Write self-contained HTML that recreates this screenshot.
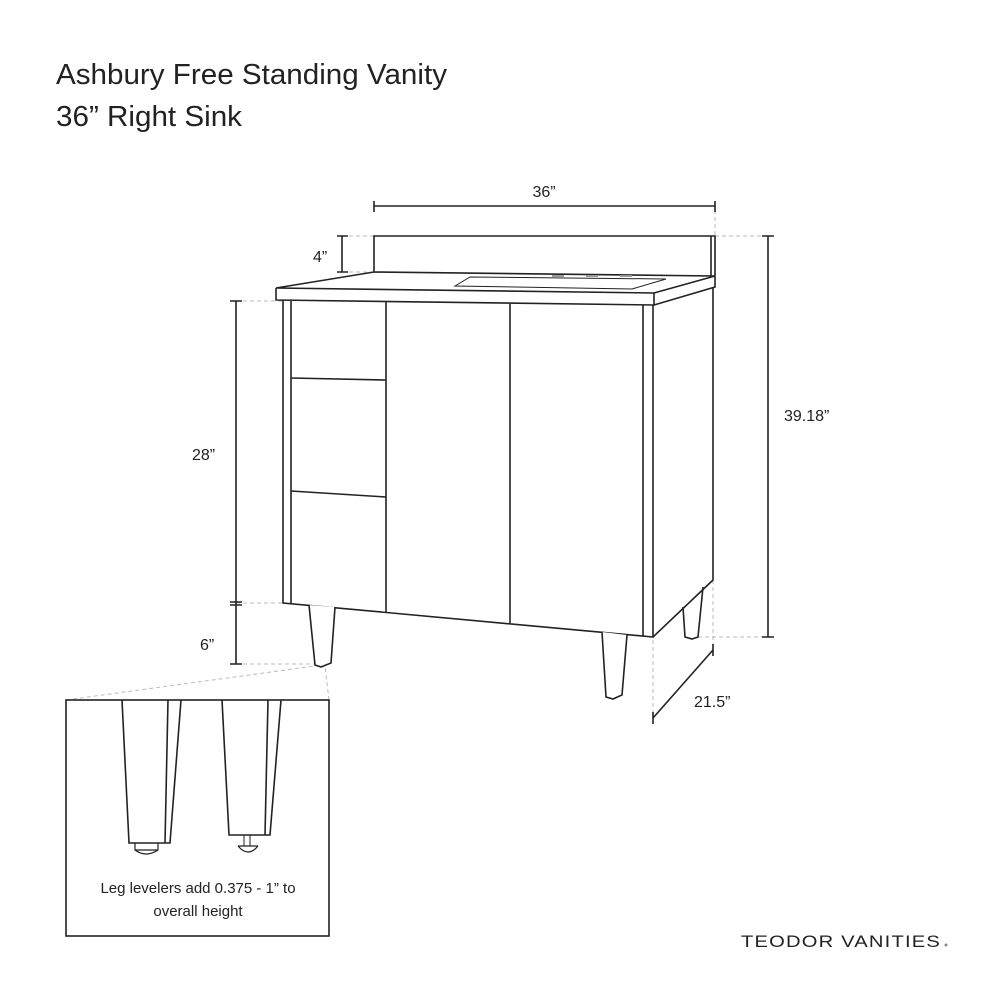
<!DOCTYPE html>
<html><head><meta charset="utf-8"><style>html,body{margin:0;padding:0;background:#fff}svg{display:block}</style></head>
<body>
<svg width="1000" height="1000" viewBox="0 0 1000 1000" xmlns="http://www.w3.org/2000/svg" font-family="Liberation Sans, sans-serif" fill="none" stroke="#222" stroke-width="1.6">
<g fill="#222" stroke="none">
<text x="56" y="84" font-size="29" textLength="391" lengthAdjust="spacingAndGlyphs">Ashbury Free Standing Vanity</text>
<text x="56" y="126" font-size="29" textLength="186" lengthAdjust="spacingAndGlyphs">36” Right Sink</text>
<text x="544" y="197" font-size="16" text-anchor="middle">36”</text>
<text x="313" y="262" font-size="16">4”</text>
<text x="192" y="460" font-size="16">28”</text>
<text x="200" y="650" font-size="16">6”</text>
<text x="784" y="421" font-size="16">39.18”</text>
<text x="694" y="707" font-size="16">21.5”</text>
<text x="198" y="893" font-size="15" text-anchor="middle">Leg levelers add 0.375 - 1” to</text>
<text x="198" y="916" font-size="15" text-anchor="middle">overall height</text>
<text x="741" y="947" font-size="17" letter-spacing="1" textLength="200" lengthAdjust="spacingAndGlyphs">TEODOR VANITIES</text>
<circle cx="946" cy="945" r="1.5" fill="#888"/>
</g>
<!-- dashed guides -->
<g stroke="#bbb" stroke-width="1" stroke-dasharray="4,3">
<path d="M715 210V236M715 236H762M342 236H374M342 272H374M236 301H282M236 603H283M236 664H315M653 640V718M713 580V650M698 637H768M66 700L315 666M329 700L325 666"/>
</g>
<!-- dimension lines -->
<path d="M374 206H715M374 201V212M715 201V212"/>
<path d="M768 236V637M762 236H774M762 637H774"/>
<path d="M342 236V272M337 236H348M337 272H348"/>
<path d="M236 301V664M230 301H242M230 602H242M230 605H242M230 664H242"/>
<path d="M653 718L713 650M653 712V724M713 644V656"/>
<!-- backsplash -->
<path d="M374 272V236H715V276M711 236V276"/>
<!-- countertop -->
<path d="M276 288L374 272L715 276L654 293L276 288Z" fill="#fff"/>
<path d="M276 288V300L654 305V293M654 305L715 287V276"/>
<path d="M455 286L470 277L666 279L632 289Z" stroke-width="1"/>
<path d="M552 276h12M586 276h12M620 276h12" stroke="#999" stroke-width="2"/>
<!-- cabinet -->
<path d="M283 300V603L653 637V305M291 300V603M386 302V612M510 304V624M643 305V636M713 287V580L653 637"/>
<path d="M291 378L386 380M291 491L386 497"/>
<!-- legs -->
<path d="M309 605L315 665L321 667L331 663L335 607" fill="#fff"/>
<path d="M602 632L606 697L613 699L622 695L627 635" fill="#fff"/>
<path d="M683 607L685 637L692 639L698 637L703 587"/>
<!-- inset -->
<rect x="66" y="700" width="263" height="236"/>
<path d="M122 700L129 843L170 843L181 700M168 700L165 843"/>
<path d="M135 843V850L158 850V843M135 850Q146 858 158 850" stroke-width="1.2"/>
<path d="M222 700L229 835L270 835L281 700M268 700L265 835"/>
<path d="M244 835V846M250 835V846" stroke-width="1"/>
<path d="M238 846H258M238 846Q248 858 258 846" stroke-width="1.2"/>
</svg>
</body></html>
